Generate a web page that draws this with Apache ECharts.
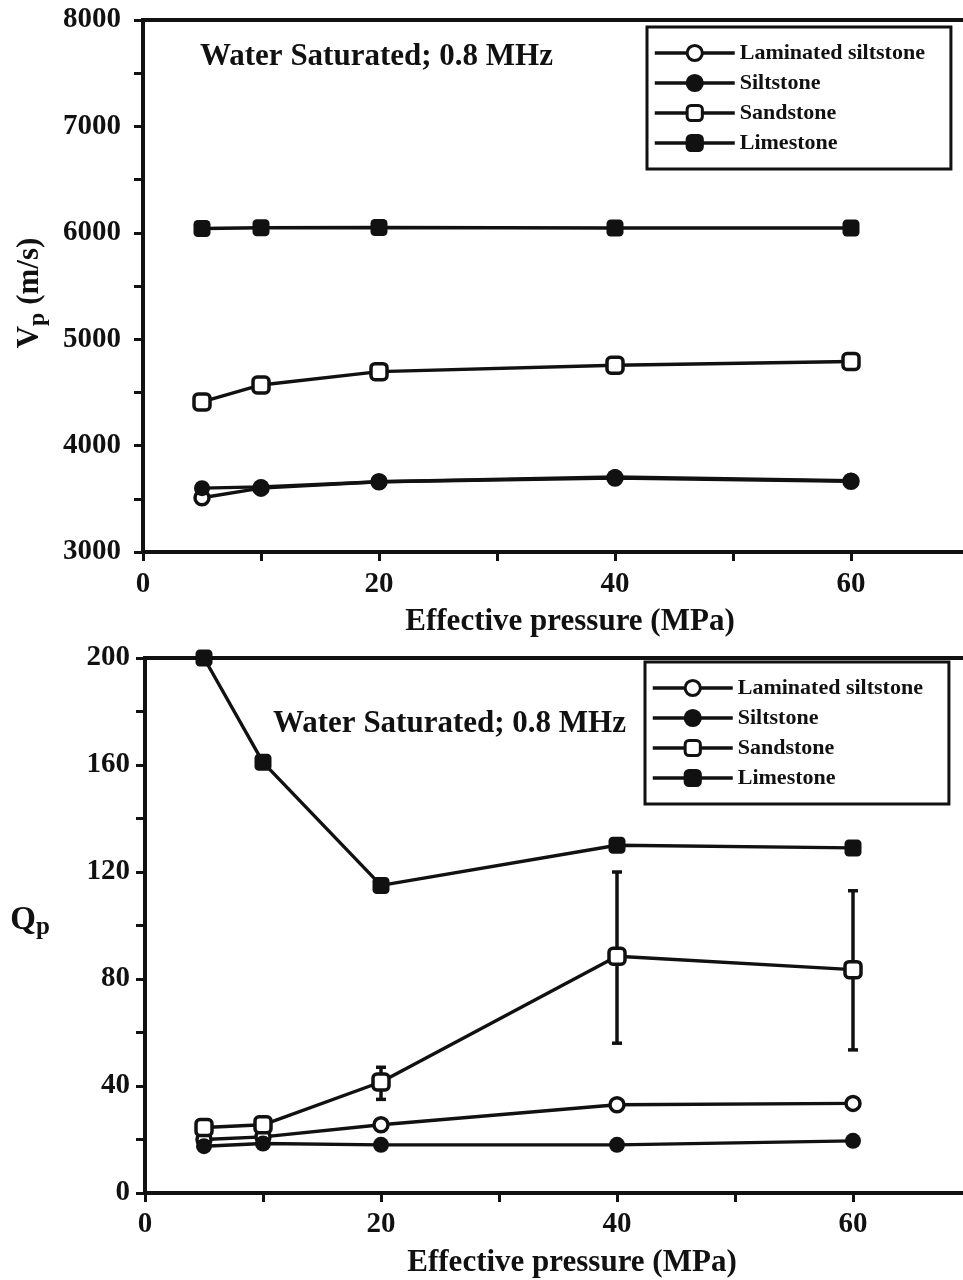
<!DOCTYPE html>
<html><head><meta charset="utf-8">
<script src="https://cdn.jsdelivr.net/npm/echarts@6/dist/echarts.min.js"></script>
<style>html,body{margin:0;padding:0;background:#fff}#c{width:963px;height:1280px}</style>
</head><body><div id="c"></div><script>
const pressure = [5, 10, 20, 40, 60];
const seriesNames = ['Laminated siltstone', 'Siltstone', 'Sandstone', 'Limestone'];
const vpLaminated = [3510, 3600, 3660, 3695, 3665];
const vpSiltstone = [3600, 3612, 3660, 3705, 3670];
const vpSandstone = [4410, 4570, 4695, 4755, 4790];
const vpLimestone = [6040, 6048, 6050, 6045, 6045];
const qpLaminated = [20, 21, 25.5, 33, 33.5];
const qpSiltstone = [17.5, 18.5, 18, 18, 19.5];
const qpSandstone = [24.5, 25.5, 41.5, 88.5, 83.5];
const qpLimestone = [200, 161, 115, 130, 129];
const qpSandstoneErrLow = [null, null, 35, 56, 53.5];
const qpSandstoneErrHigh = [null, null, 47, 120, 113];
const titleText = 'Water Saturated; 0.8 MHz';
const xName = 'Effective pressure (MPa)';

const FONT = '"Liberation Serif", "Times New Roman", serif';
const INK = '#111';
const markerStyles = [
  {symbol: 'circle', symbolSize: 14, itemStyle: {color: '#fff', borderColor: INK, borderWidth: 3.5}},
  {symbol: 'circle', symbolSize: 16, itemStyle: {color: INK, borderColor: INK, borderWidth: 0}},
  {symbol: 'roundRect', symbolSize: 16, itemStyle: {color: '#fff', borderColor: INK, borderWidth: 3.5}},
  {symbol: 'roundRect', symbolSize: 17, itemStyle: {color: INK, borderColor: INK, borderWidth: 0}}
];
const vpData = [vpLaminated, vpSiltstone, vpSandstone, vpLimestone];
const qpData = [qpLaminated, qpSiltstone, qpSandstone, qpLimestone];

function mkSeries(arr, gi) {
  return arr.map((vals, k) => Object.assign({
    name: seriesNames[k], type: 'line', xAxisIndex: gi, yAxisIndex: gi,
    data: pressure.map((p, i) => [p, vals[i]]),
    lineStyle: {color: INK, width: 3.4}, z: 3 + k, animation: false
  }, markerStyles[k]));
}

const labelStyle = {color: INK, fontFamily: FONT, fontWeight: 'bold', fontSize: 29};
function xAxis(gi, margin) {
  return {type: 'value', gridIndex: gi, min: 0, max: 70, interval: 10,
    axisLine: {lineStyle: {color: INK, width: 4}},
    axisTick: {inside: false, length: 9, lineStyle: {color: INK, width: 3}},
    splitLine: {show: false},
    axisLabel: Object.assign({margin: margin, formatter: v => (v % 20 === 0 && v <= 60) ? String(v) : ''}, labelStyle),
    name: xName, nameLocation: 'middle', nameGap: 54,
    nameTextStyle: {color: INK, fontFamily: FONT, fontWeight: 'bold', fontSize: 31, padding: [0, 0, 0, 28]}
  };
}
function yAxis(gi, min, max, step, labStep, margin) {
  return {type: 'value', gridIndex: gi, min: min, max: max, interval: step,
    axisLine: {show: true, lineStyle: {color: INK, width: 4}},
    axisTick: {show: true, inside: false, length: 9, lineStyle: {color: INK, width: 3}},
    splitLine: {show: false},
    axisLabel: Object.assign({margin: margin, formatter: v => (v % labStep === 0) ? String(v) : ''}, labelStyle)
  };
}
function legend(top, left) {
  return {data: seriesNames, orient: 'vertical', left: left, top: top,
    itemWidth: 80, itemHeight: 19, itemGap: 8,
    padding: [15, 26, 15, 6], borderColor: INK, borderWidth: 3, backgroundColor: '#fff',
    selectedMode: false,
    lineStyle: {width: 3.5, color: INK},
    itemStyle: {borderWidth: 3, borderColor: INK},
    textStyle: {color: INK, fontFamily: FONT, fontWeight: 'bold', fontSize: 22}};
}
const errData = pressure.map((p, i) => [p, qpSandstoneErrLow[i], qpSandstoneErrHigh[i]]).filter(d => d[1] != null);

const chart = echarts.init(document.getElementById('c'), null, {renderer: 'canvas'});
chart.setOption({
  backgroundColor: '#fff',
  animation: false,
  grid: [
    {left: 143, top: 20, width: 826, height: 532, show: true, borderColor: INK, borderWidth: 4, outerBoundsMode: 'none', containLabel: false},
    {left: 145, top: 658, width: 826, height: 535, show: true, borderColor: INK, borderWidth: 4, outerBoundsMode: 'none', containLabel: false}
  ],
  xAxis: [xAxis(0, 18), xAxis(1, 17)],
  yAxis: [yAxis(0, 3000, 8000, 500, 1000, 22), yAxis(1, 0, 200, 20, 40, 15)],
  legend: [legend(27, 647), legend(662, 645)],
  graphic: [
    {type: 'text', left: 200, top: 41, style: {text: titleText, fill: INK, font: 'bold 31px ' + FONT}},
    {type: 'text', left: 273, top: 708, style: {text: titleText, fill: INK, font: 'bold 31px ' + FONT}},
    {type: 'text', x: 30, y: 293, rotation: Math.PI / 2,
      style: {text: '{a|V}{s|p}{a| (m/s)}', align: 'center', verticalAlign: 'middle', fill: INK,
        rich: {a: {fontFamily: FONT, fontWeight: 'bold', fontSize: 31, fill: INK},
               s: {fontFamily: FONT, fontWeight: 'bold', fontSize: 24, fill: INK, padding: [16, 0, 0, 0]}}}},
    {type: 'text', x: 30, y: 920,
      style: {text: '{a|Q}{s|p}', align: 'center', verticalAlign: 'middle', fill: INK,
        rich: {a: {fontFamily: FONT, fontWeight: 'bold', fontSize: 33, fill: INK},
               s: {fontFamily: FONT, fontWeight: 'bold', fontSize: 25, fill: INK, padding: [16, 0, 0, 0]}}}}
  ],
  series: mkSeries(vpData, 0).concat(mkSeries(qpData, 1)).concat([{
    type: 'custom', xAxisIndex: 1, yAxisIndex: 1, data: errData, z: 2, silent: true,
    encode: {x: 0, y: [1, 2]},
    renderItem: function (params, api) {
      const x = api.value(0);
      const lo = api.coord([x, api.value(1)]);
      const hi = api.coord([x, api.value(2)]);
      const w = 5, st = {stroke: INK, lineWidth: 3.5};
      return {type: 'group', children: [
        {type: 'line', shape: {x1: lo[0], y1: lo[1], x2: hi[0], y2: hi[1]}, style: st},
        {type: 'line', shape: {x1: lo[0] - w, y1: lo[1], x2: lo[0] + w, y2: lo[1]}, style: st},
        {type: 'line', shape: {x1: hi[0] - w, y1: hi[1], x2: hi[0] + w, y2: hi[1]}, style: st}
      ]};
    }
  }])
});
</script></body></html>
